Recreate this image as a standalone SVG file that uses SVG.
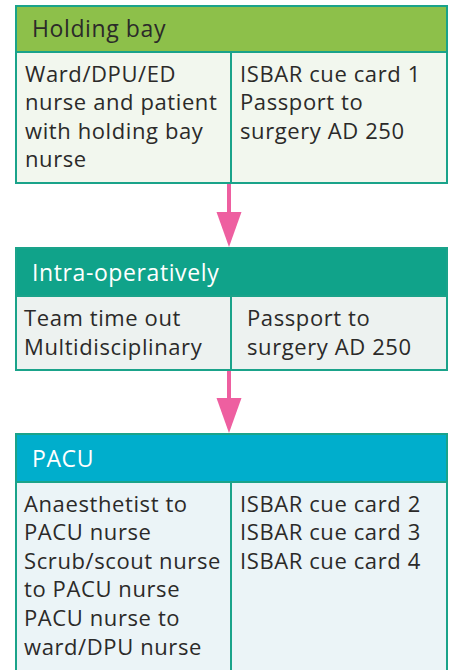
<svg xmlns="http://www.w3.org/2000/svg" width="451" height="670" viewBox="0 0 451 670">
  <defs>
    <style>
      text { font-family: "Open Sans", "Noto Sans", "Liberation Sans", sans-serif; font-size: 22px; font-weight: 400; letter-spacing: 0.6px; fill: #2b2a29; }
      .head { font-size: 23px; letter-spacing: 0.6px; }
      .head-light { fill: #ffffff; }
      .frame { stroke: #1aa38a; stroke-width: 2; }
      .divider { stroke: #1aa38a; stroke-width: 2; fill: none; }
      .link { stroke: #ee5fa0; stroke-width: 4; fill: none; }
      .tip { fill: #ee5fa0; }
    </style>
  </defs>
  <rect width="451" height="670" fill="#ffffff"/>

  <!-- connectors between the stages -->
  <g id="connectors">
    <line class="link" x1="229" y1="183" x2="229" y2="214"/>
    <polygon class="tip" points="216.5,212 241.5,212 229,247"/>
    <line class="link" x1="229" y1="370" x2="229" y2="400"/>
    <polygon class="tip" points="216.5,398 241.5,398 229,433"/>
  </g>

  <!-- stage 1 -->
  <g id="holding-bay">
    <rect class="frame" x="16" y="6" width="431" height="177" fill="#f2f7ee"/>
    <rect class="frame" x="16" y="6" width="431" height="46" fill="#8dc04a"/>
    <line class="divider" x1="231" y1="52" x2="231" y2="183"/>
    <text class="head" x="32" y="37">Holding bay</text>
    <text x="25" y="82">Ward/DPU/ED</text>
    <text x="25" y="110">nurse and patient</text>
    <text x="25" y="139">with holding bay</text>
    <text x="25" y="167">nurse</text>
    <text x="240" y="82">ISBAR cue card 1</text>
    <text x="240" y="110">Passport to</text>
    <text x="240" y="139">surgery AD 250</text>
  </g>

  <!-- stage 2 -->
  <g id="intra-operatively">
    <rect class="frame" x="16" y="248" width="431" height="122" fill="#edf2f0"/>
    <rect class="frame" x="16" y="248" width="431" height="48" fill="#10a38a"/>
    <line class="divider" x1="231" y1="296" x2="231" y2="370"/>
    <text class="head head-light" x="32" y="281">Intra-operatively</text>
    <text x="24" y="326">Team time out</text>
    <text x="24" y="355">Multidisciplinary</text>
    <text x="247" y="326">Passport to</text>
    <text x="247" y="355">surgery AD 250</text>
  </g>

  <!-- stage 3 -->
  <g id="pacu">
    <rect class="frame" x="16" y="434" width="431" height="246" fill="#ebf4f7"/>
    <rect class="frame" x="16" y="434" width="431" height="48" fill="#00aecc" stroke="#00aecc"/>
    <line class="divider" x1="231" y1="482" x2="231" y2="672"/>
    <text class="head head-light" x="32" y="467">PACU</text>
    <text x="24" y="512">Anaesthetist to</text>
    <text x="24" y="540">PACU nurse</text>
    <text x="24" y="569">Scrub/scout nurse</text>
    <text x="24" y="597">to PACU nurse</text>
    <text x="24" y="626">PACU nurse to</text>
    <text x="24" y="655">ward/DPU nurse</text>
    <text x="240" y="512">ISBAR cue card 2</text>
    <text x="240" y="540">ISBAR cue card 3</text>
    <text x="240" y="569">ISBAR cue card 4</text>
  </g>
</svg>
